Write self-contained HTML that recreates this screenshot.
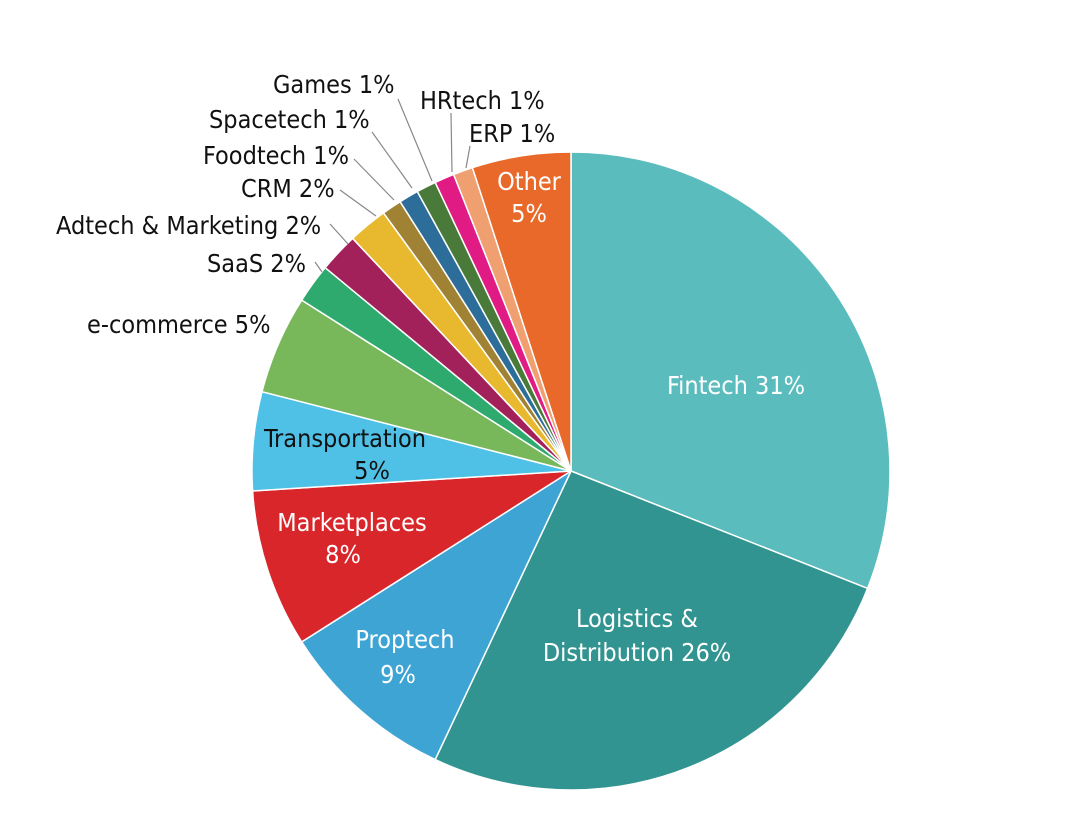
<!DOCTYPE html>
<html><head><meta charset="utf-8"><style>
html,body{margin:0;padding:0;background:#fff;}
svg{display:block}
text{font-family:"Liberation Sans Narrow","DejaVu Sans Condensed","Liberation Sans",sans-serif;font-size:25px;}
</style></head><body>
<svg width="1080" height="821" viewBox="0 0 1080 821">
<g stroke="#fff" stroke-width="1.5" stroke-linejoin="round">
<path d="M571,471 L571,152 A319,319 0 0 1 867.6,588.4 Z" fill="#5bbcbd"/>
<path d="M571,471 L867.6,588.4 A319,319 0 0 1 435.2,759.6 Z" fill="#329490"/>
<path d="M571,471 L435.2,759.6 A319,319 0 0 1 301.7,641.9 Z" fill="#3ea4d4"/>
<path d="M571,471 L301.7,641.9 A319,319 0 0 1 252.6,491.0 Z" fill="#d9262b"/>
<path d="M571,471 L252.6,491.0 A319,319 0 0 1 262.0,391.7 Z" fill="#4fc0e6"/>
<path d="M571,471 L262.0,391.7 A319,319 0 0 1 301.7,300.1 Z" fill="#78b85a"/>
<path d="M571,471 L301.7,300.1 A319,319 0 0 1 325.2,267.7 Z" fill="#2eaa6e"/>
<path d="M571,471 L325.2,267.7 A319,319 0 0 1 352.6,238.4 Z" fill="#a3215a"/>
<path d="M571,471 L352.6,238.4 A319,319 0 0 1 383.5,212.9 Z" fill="#e8b92f"/>
<path d="M571,471 L383.5,212.9 A319,319 0 0 1 400.1,201.7 Z" fill="#a08234"/>
<path d="M571,471 L400.1,201.7 A319,319 0 0 1 417.3,191.5 Z" fill="#2c6e99"/>
<path d="M571,471 L417.3,191.5 A319,319 0 0 1 435.2,182.4 Z" fill="#4a7a3a"/>
<path d="M571,471 L435.2,182.4 A319,319 0 0 1 453.6,174.4 Z" fill="#e01c84"/>
<path d="M571,471 L453.6,174.4 A319,319 0 0 1 472.4,167.6 Z" fill="#f0a070"/>
<path d="M571,471 L472.4,167.6 A319,319 0 0 1 571,152 Z" fill="#e8692a"/>
</g>
<g stroke="#888" stroke-width="1.2" fill="none">
<line x1="398" y1="99" x2="432" y2="181"/>
<line x1="451" y1="113" x2="452" y2="172"/>
<line x1="372" y1="132" x2="412" y2="188"/>
<line x1="470" y1="146" x2="466" y2="168"/>
<line x1="354" y1="159" x2="394" y2="200"/>
<line x1="340" y1="190" x2="376" y2="216"/>
<line x1="330" y1="224" x2="348" y2="244"/>
<line x1="315" y1="262" x2="322" y2="272"/>
</g>
<g fill="#111">
<text x="273" y="93">Games 1%</text>
<text x="420" y="109">HRtech 1%</text>
<text x="209" y="128">Spacetech 1%</text>
<text x="469" y="142">ERP 1%</text>
<text x="203" y="164">Foodtech 1%</text>
<text x="241" y="197">CRM 2%</text>
<text x="56" y="234">Adtech &amp; Marketing 2%</text>
<text x="207" y="272">SaaS 2%</text>
<text x="87" y="333">e-commerce 5%</text>
<text x="345" y="447" text-anchor="middle">Transportation</text>
<text x="372" y="479" text-anchor="middle">5%</text>
</g>
<g fill="#fff" text-anchor="middle">
<text x="529" y="190">Other</text>
<text x="529" y="222">5%</text>
<text x="736" y="394">Fintech 31%</text>
<text x="637" y="627">Logistics &amp;</text>
<text x="637" y="661">Distribution 26%</text>
<text x="405" y="648">Proptech</text>
<text x="398" y="683">9%</text>
<text x="352" y="531">Marketplaces</text>
<text x="343" y="563">8%</text>
</g>
</svg>
</body></html>
